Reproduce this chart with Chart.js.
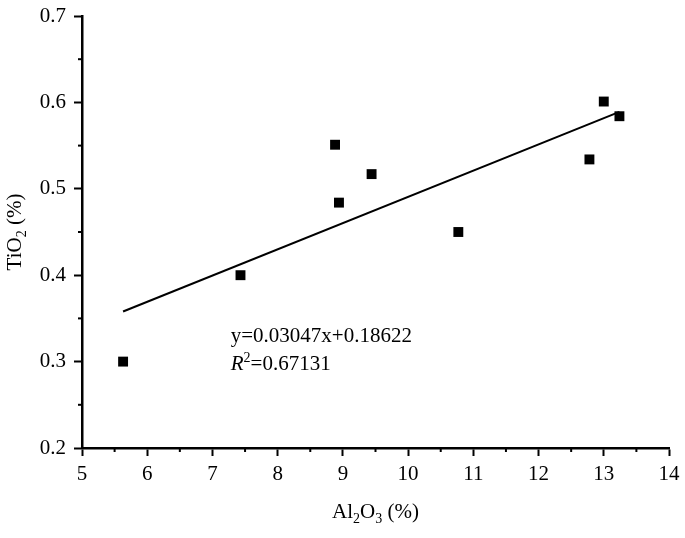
<!DOCTYPE html>
<html>
<head>
<meta charset="utf-8">
<script src="https://cdn.jsdelivr.net/npm/chart.js@4"></script>
<style>
  html, body { margin: 0; padding: 0; background: #fff; }
  #wrap { width: 685px; height: 538px; }
</style>
</head>
<body>
<div id="wrap"><canvas id="chart" width="685" height="538"></canvas></div>
<script>
// values
var al2o3 = [5.63, 7.43, 8.88, 8.94, 9.44, 10.77, 12.78, 13.0, 13.24];
var tio2 = [0.300, 0.400, 0.551, 0.484, 0.517, 0.450, 0.534, 0.601, 0.584];

// fitted line end points
var fitX = [5.63, 13.24];
var fitY = [0.358, 0.589];

var eqText = "y=0.03047x+0.18622";
var r2Text = "=0.67131";

var xTicks = [5, 6, 7, 8, 9, 10, 11, 12, 13, 14];
var yTicks = [0.2, 0.3, 0.4, 0.5, 0.6, 0.7];

var serif = '"Liberation Serif", "Times New Roman", serif';

var points = al2o3.map(function (x, i) {
  return { x: x, y: tio2[i] };
});
var fitLine = fitX.map(function (x, i) {
  return { x: x, y: fitY[i] };
});

// draws minor ticks, axis titles with subscripts and the fit equation
var extras = {
  id: "extras",
  afterDraw: function (chart) {
    var ctx = chart.ctx,
      xs = chart.scales.x,
      ys = chart.scales.y,
      area = chart.chartArea;
    ctx.save();
    ctx.strokeStyle = "#000";
    ctx.lineWidth = 2;
    // minor ticks at half steps
    for (var i = 0; i < xTicks.length - 1; i++) {
      var px = xs.getPixelForValue(xTicks[i] + 0.5);
      ctx.beginPath();
      ctx.moveTo(px, area.bottom);
      ctx.lineTo(px, area.bottom + 4);
      ctx.stroke();
    }
    for (var j = 0; j < yTicks.length - 1; j++) {
      var py = ys.getPixelForValue(yTicks[j] + 0.05);
      ctx.beginPath();
      ctx.moveTo(area.left, py);
      ctx.lineTo(area.left - 4, py);
      ctx.stroke();
    }

    ctx.fillStyle = "#000";
    ctx.textBaseline = "alphabetic";
    ctx.textAlign = "left";

    // run of text pieces: [text, size, dy, italic]
    function runWidth(parts) {
      var w = 0;
      parts.forEach(function (p) {
        ctx.font = (p[3] ? "italic " : "") + p[1] + "px " + serif;
        w += ctx.measureText(p[0]).width;
      });
      return w;
    }
    function drawRun(parts, x, y) {
      parts.forEach(function (p) {
        ctx.font = (p[3] ? "italic " : "") + p[1] + "px " + serif;
        ctx.fillText(p[0], x, y + p[2]);
        x += ctx.measureText(p[0]).width;
      });
    }

    // x axis title
    var xt = [["Al", 21, 0], ["2", 14, 5], ["O", 21, 0], ["3", 14, 5], [" (%)", 21, 0]];
    var cx = (area.left + area.right) / 2;
    drawRun(xt, cx - runWidth(xt) / 2, 518);

    // y axis title, rotated
    var yt = [["TiO", 21, 0], ["2", 14, 5], [" (%)", 21, 0]];
    ctx.save();
    ctx.translate(21, (area.top + area.bottom) / 2);
    ctx.rotate(-Math.PI / 2);
    drawRun(yt, -runWidth(yt) / 2, 0);
    ctx.restore();

    // equation and R squared
    var ex = xs.getPixelForValue(7.28);
    drawRun([[eqText, 21, 0]], ex, ys.getPixelForValue(0.3227));
    drawRun([["R", 21, 0, true], ["2", 14, -8], [r2Text, 21, 0]], ex, ys.getPixelForValue(0.2903));

    ctx.restore();
  },
};

var ctx = document.getElementById("chart").getContext("2d");

var chart = new Chart(ctx, {
  type: "scatter",
  data: {
    datasets: [
      {
        label: "data",
        data: points,
        pointStyle: "rect",
        pointRadius: 7,
        pointHoverRadius: 7,
        backgroundColor: "#000",
        borderColor: "#000",
        borderWidth: 0,
      },
      {
        label: "fit",
        data: fitLine,
        showLine: true,
        pointRadius: 0,
        borderColor: "#000",
        borderWidth: 2,
        fill: false,
      },
    ],
  },
  options: {
    responsive: false,
    animation: false,
    layout: { padding: { top: 16, right: 16, left: 0, bottom: 0 } },
    plugins: {
      legend: { display: false },
      tooltip: { enabled: false },
    },
    scales: {
      x: {
        type: "linear",
        min: 5,
        max: 14,
        afterFit: function (scale) {
          scale.height = 90;
          scale.paddingLeft = 0;
          scale.paddingRight = 0;
        },
        afterBuildTicks: function (scale) {
          scale.ticks = xTicks.map(function (v) {
            return { value: v };
          });
        },
        border: { display: true, color: "#000", width: 2.5 },
        grid: {
          drawOnChartArea: false,
          drawTicks: true,
          tickLength: 8,
          tickWidth: 2,
          tickColor: "#000",
        },
        ticks: {
          color: "#000",
          padding: 6,
          maxRotation: 0,
          font: { family: serif, size: 21 },
        },
      },
      y: {
        type: "linear",
        min: 0.2,
        max: 0.7,
        afterFit: function (scale) {
          scale.width = 82;
          scale.paddingTop = 0;
          scale.paddingBottom = 0;
        },
        afterBuildTicks: function (scale) {
          scale.ticks = yTicks.map(function (v) {
            return { value: v };
          });
        },
        border: { display: true, color: "#000", width: 2.5 },
        grid: {
          drawOnChartArea: false,
          drawTicks: true,
          tickLength: 8,
          tickWidth: 2,
          tickColor: "#000",
        },
        ticks: {
          color: "#000",
          padding: 8,
          font: { family: serif, size: 21 },
          callback: function (v) {
            return v.toFixed(1);
          },
        },
      },
    },
  },
  plugins: [extras],
});
</script>
</body>
</html>
